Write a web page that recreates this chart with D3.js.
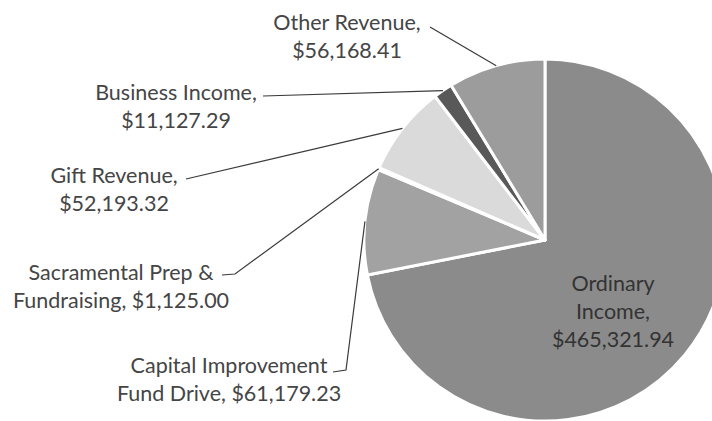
<!DOCTYPE html>
<html>
<head>
<meta charset="utf-8">
<script src="https://cdn.jsdelivr.net/npm/d3@7"></script>
<style>
  html, body { margin: 0; padding: 0; background: #fff; }
  svg { display: block; }
</style>
</head>
<body>
<div id="chart"></div>
<script>
// Income breakdown pie (scanned Excel chart)
const categories = [
    "Ordinary Income",
    "Capital Improvement Fund Drive",
    "Sacramental Prep & Fundraising",
    "Gift Revenue",
    "Business Income",
    "Other Revenue"
];
const values = [465321.94, 61179.23, 1125.00, 52193.32, 11127.29, 56168.41];
// how each label is broken into lines (text only)
const labelLines = [
    ["Ordinary", "Income,", "$465,321.94"],
    ["Capital Improvement", "Fund Drive, $61,179.23"],
    ["Sacramental Prep &", "Fundraising, $1,125.00"],
    ["Gift Revenue,", "$52,193.32"],
    ["Business Income,", "$11,127.29"],
    ["Other Revenue,", "$56,168.41"]
];

const colors = ["#8b8b8b", "#a2a2a2", "#d6d6d6", "#dadada", "#595959", "#9c9c9c"];

// label layout: text centre x, first line y, leader start points
const layout = [
    { x: 613, y: 283, leader: null },
    { x: 229, y: 365, leader: [[333, 372], [346, 370]] },
    { x: 121, y: 272, leader: [[222, 275], [235, 274]] },
    { x: 114, y: 175, leader: [[186, 179]] },
    { x: 176, y: 92, leader: [[263, 96]] },
    { x: 347, y: 22, leader: [[430, 27]] }
];

const width = 712, height = 421;
const cx = 545, cy = 240, radius = 181;
const lineH = 28;

const svg = d3.select("#chart")
    .append("svg")
    .attr("width", width)
    .attr("height", height);

const data = categories.map((c, i) => ({ name: c, value: values[i], i }));

const pie = d3.pie()
    .sort(null)
    .value(d => d.value);

const arc = d3.arc()
    .innerRadius(0)
    .outerRadius(radius);

const arcs = pie(data);

const g = svg.append("g")
    .attr("transform", `translate(${cx},${cy})`);

g.selectAll("path")
    .data(arcs)
    .enter()
    .append("path")
    .attr("d", arc)
    .attr("fill", d => colors[d.data.i])
    .attr("stroke", "#fff")
    .attr("stroke-width", 3)
    .attr("stroke-linejoin", "round");

// leader lines: from label to the slice's outer edge midpoint
const edge = d => {
    const a = (d.startAngle + d.endAngle) / 2;
    return [cx + radius * Math.sin(a), cy - radius * Math.cos(a)];
};

svg.selectAll("path.leader")
    .data(arcs.filter(d => layout[d.data.i].leader))
    .enter()
    .append("path")
    .attr("class", "leader")
    .attr("fill", "none")
    .attr("stroke", "#3a3a3a")
    .attr("stroke-width", 1.2)
    .attr("d", d => d3.line()(layout[d.data.i].leader.concat([edge(d)])));

// labels
const font = "Lato, 'Open Sans', sans-serif";
arcs.forEach(d => {
    const L = layout[d.data.i];
    const t = svg.append("text")
        .attr("text-anchor", "middle")
        .attr("font-family", font)
        .attr("font-size", 21.5)
        .attr("fill", d.data.i === 0 ? "#333" : "#454545");
    labelLines[d.data.i].forEach((s, k) => {
        t.append("tspan")
            .attr("x", L.x)
            .attr("y", L.y + k * lineH)
            .attr("dy", "0.35em")
            .text(s);
    });
});
</script>
</body>
</html>
